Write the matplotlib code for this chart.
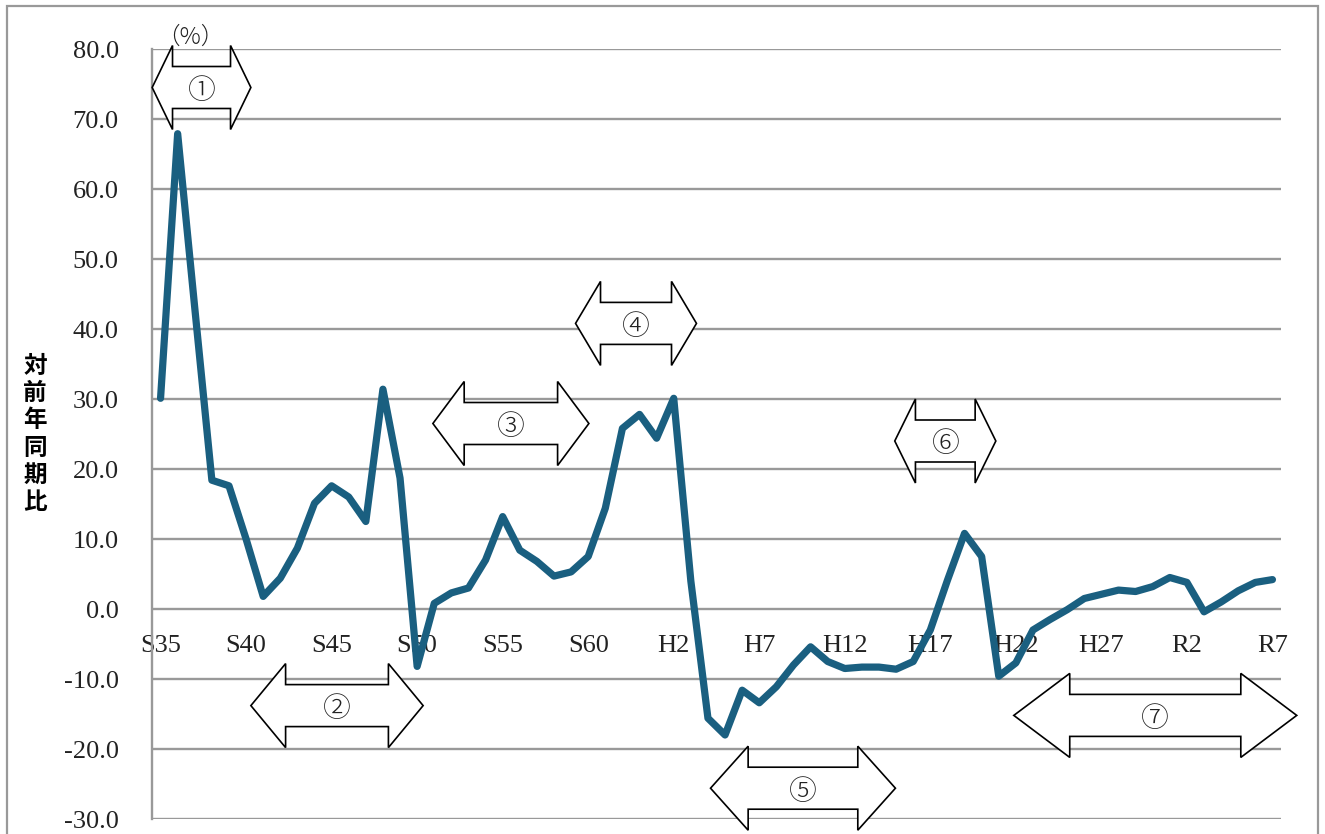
import matplotlib
matplotlib.use("Agg")
import matplotlib.pyplot as plt
from matplotlib.patches import Polygon, Rectangle
from matplotlib.ticker import FormatStrFormatter

plt.rcParams["axes.unicode_minus"] = False

# year-on-year change (%), one value per year from S35 to R7
values = [30.1, 67.9, 43.0, 18.4, 17.6, 10.0, 1.8, 4.4, 8.7, 15.1,
          17.6, 16.0, 12.5, 31.4, 18.7, -8.2, 0.8, 2.3, 3.0, 7.0,
          13.2, 8.4, 6.8, 4.7, 5.3, 7.5, 14.4, 25.8, 27.8, 24.4,
          30.1, 4.0, -15.6, -18.0, -11.6, -13.4, -11.1, -8.0, -5.4, -7.5,
          -8.5, -8.3, -8.3, -8.6, -7.5, -3.0, 4.1, 10.8, 7.5, -9.6,
          -7.7, -3.0, -1.5, -0.1, 1.5, 2.1, 2.7, 2.5, 3.2, 4.5,
          3.8, -0.4, 1.0, 2.6, 3.8, 4.2]
tick_labels = ["S35", "S40", "S45", "S50", "S55", "S60", "H2",
               "H7", "H12", "H17", "H22", "H27", "R2", "R7"]

# period arrows: label, left tip, right tip, centre value, head length
periods = [
    ("①", -0.49, 5.28, 74.5, 1.19),
    ("②", 5.28, 15.35, -13.8, 2.03),
    ("③", 15.92, 25.04, 26.5, 1.83),
    ("④", 24.26, 31.33, 40.8, 1.46),
    ("⑤", 32.15, 42.96, -25.6, 2.20),
    ("⑥", 42.92, 48.83, 24.0, 1.21),
    ("⑦", 49.88, 66.42, -15.2, 3.27),
]
HEAD_HALF = 6.0
BODY_HALF = 3.0

W, H = 1325, 834
fig = plt.figure(figsize=(W / 100, H / 100), dpi=100)
ax = fig.add_axes([152 / W, 1 - 819 / H, (1281 - 152) / W, (819 - 49) / H])

x = list(range(len(values)))
ax.plot(x, values, color="#1a5f80", lw=5.2, zorder=5,
        solid_joinstyle="round", solid_capstyle="round")

ax.set_xlim(-0.5, len(values) - 0.5)
ax.set_ylim(-30, 80)
ax.set_yticks(range(-30, 81, 10))
ax.yaxis.set_major_formatter(FormatStrFormatter("%.1f"))
ax.set_xticks(range(0, len(values), 5))
ax.set_xticklabels(tick_labels)

ax.grid(axis="y", color="#999999", lw=1.7, zorder=1)
ax.set_axisbelow(True)
for side in ["top", "right"]:
    ax.spines[side].set_visible(False)
ax.spines["left"].set_color("#999999")
ax.spines["left"].set_linewidth(1.7)
ax.spines["bottom"].set_position(("data", 0))
ax.spines["bottom"].set_visible(False)
ax.tick_params(axis="both", length=0, labelsize=19, colors="#222222")
ax.tick_params(axis="y", pad=24)
ax.tick_params(axis="x", pad=19)
for lab in ax.get_xticklabels() + ax.get_yticklabels():
    lab.set_fontfamily("Liberation Serif")

# double-headed arrows marking each period
for label, xl, xr, yc, hl in periods:
    pts = [(xl, yc), (xl + hl, yc + HEAD_HALF), (xl + hl, yc + BODY_HALF),
           (xr - hl, yc + BODY_HALF), (xr - hl, yc + HEAD_HALF), (xr, yc),
           (xr - hl, yc - HEAD_HALF), (xr - hl, yc - BODY_HALF),
           (xl + hl, yc - BODY_HALF), (xl + hl, yc - HEAD_HALF)]
    ax.add_patch(Polygon(pts, closed=True, facecolor="white",
                         edgecolor="black", lw=1.2, zorder=4, clip_on=False))
    ax.text((xl + xr) / 2, yc - 0.5, label, ha="center", va="center",
            fontsize=20, family=["Noto Sans CJK JP", "DejaVu Sans"],
            fontweight="light", color="#222222", zorder=6, clip_on=False)

fig.text(190 / W, 1 - 37 / H, "（%）", ha="center", va="center",
         fontsize=17, family=["Noto Sans CJK JP", "DejaVu Sans"],
         fontweight="light", color="#222222")

# vertical axis title, one character per line
for k, ch in enumerate("対前年同期比"):
    fig.text(35 / W, 1 - (366 + k * 27.2) / H, ch, ha="center", va="center",
             fontsize=17, fontweight="bold", family=["Noto Sans CJK JP"])

fig.patches.append(Rectangle((7 / W, -0.05), (1318 - 7) / W, 1.05 - 6 / H,
                             transform=fig.transFigure, fill=False,
                             edgecolor="#999999", lw=1.6))

fig.savefig("out.png", dpi=100)
